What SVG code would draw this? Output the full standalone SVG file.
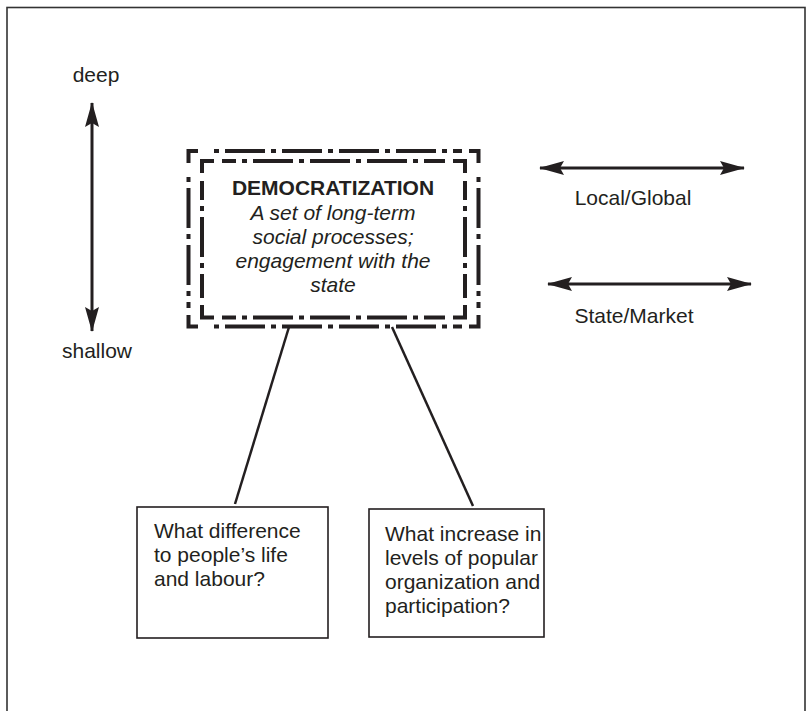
<svg xmlns="http://www.w3.org/2000/svg" width="807" height="711" viewBox="0 0 807 711">
  <style>
    .txt { font-family: "Liberation Sans", Arial, Helvetica, sans-serif; font-size: 21px; fill: #231f20; }
    .bold { font-weight: bold; }
    .ital { font-style: italic; }
    .frame { fill: none; stroke: #231f20; stroke-width: 4; }
    .side { stroke-dasharray: 5 6 40 6; }
    .box { fill: #fff; stroke: #231f20; stroke-width: 1.6; }
    .arrow { fill: none; stroke: #231f20; stroke-width: 3; marker-start: url(#head); marker-end: url(#head); }
    .link { fill: none; stroke: #231f20; stroke-width: 2.5; }
  </style>
  <defs>
    <marker id="head" viewBox="-25 -8 27 16" refX="0" refY="0" markerWidth="27" markerHeight="16" markerUnits="userSpaceOnUse" orient="auto-start-reverse">
      <path d="M1,0 L-24,-7 L-20,0 L-24,7 Z" fill="#231f20"/>
    </marker>
  </defs>

  <rect x="7" y="7.5" width="798" height="720" fill="#fff" stroke="#333" stroke-width="1.6"/>

  <g id="axes">
    <g id="depth-axis">
      <line class="arrow" x1="92" y1="103" x2="92" y2="331"/>
      <text class="txt" x="96" y="82" text-anchor="middle">deep</text>
      <text class="txt" x="97" y="358" text-anchor="middle">shallow</text>
    </g>
    <g id="local-global-axis">
      <line class="arrow" x1="540" y1="168" x2="744" y2="168"/>
      <text class="txt" x="633" y="205" text-anchor="middle">Local/Global</text>
    </g>
    <g id="state-market-axis">
      <line class="arrow" x1="548" y1="284" x2="751" y2="284"/>
      <text class="txt" x="634" y="323" text-anchor="middle">State/Market</text>
    </g>
  </g>

  <g id="connectors">
    <line class="link" x1="289" y1="327" x2="235" y2="504"/>
    <line class="link" x1="392" y1="327" x2="473" y2="506"/>
  </g>

  <g id="democratization">
    <!-- outer dash-dot frame: corner pieces plus dashed sides -->
    <path class="frame" d="M188.5,163 V151 H198 M469,151 H478.5 V163 M478.5,315 V326.5 H469 M198,326.5 H188.5 V315"/>
    <path class="frame side" d="M214,151 H462"/>
    <path class="frame side" d="M214,326.5 H462"/>
    <path class="frame side" d="M188.5,177 V308"/>
    <path class="frame side" d="M478.5,177 V308"/>
    <!-- inner dash-dot frame -->
    <path class="frame" d="M202,173 V161 H214 M453,161 H465 V173 M465,305 V317.5 H453 M214,317.5 H202 V305"/>
    <path class="frame side" d="M222,161 H445" style="stroke-dashoffset:-20"/>
    <path class="frame side" d="M222,317.5 H445" style="stroke-dashoffset:-20"/>
    <path class="frame side" d="M202,181 V298" style="stroke-dashoffset:-25"/>
    <path class="frame side" d="M465,181 V298" style="stroke-dashoffset:-25"/>
    <text class="txt bold" x="333" y="195" text-anchor="middle">DEMOCRATIZATION</text>
    <text class="txt ital" x="333" y="220" text-anchor="middle">A set of long-term</text>
    <text class="txt ital" x="333" y="244" text-anchor="middle">social processes;</text>
    <text class="txt ital" x="333" y="268" text-anchor="middle">engagement with the</text>
    <text class="txt ital" x="333" y="292" text-anchor="middle">state</text>
  </g>

  <g id="life-and-labour">
    <rect class="box" x="137" y="507" width="191" height="131"/>
    <text class="txt" x="154" y="538">What difference</text>
    <text class="txt" x="154" y="562">to people’s life</text>
    <text class="txt" x="154" y="586">and labour?</text>
  </g>

  <g id="popular-organization">
    <rect class="box" x="369" y="509" width="175" height="128"/>
    <text class="txt" x="385" y="541">What increase in</text>
    <text class="txt" x="385" y="565">levels of popular</text>
    <text class="txt" x="385" y="589">organization and</text>
    <text class="txt" x="385" y="613">participation?</text>
  </g>
</svg>
